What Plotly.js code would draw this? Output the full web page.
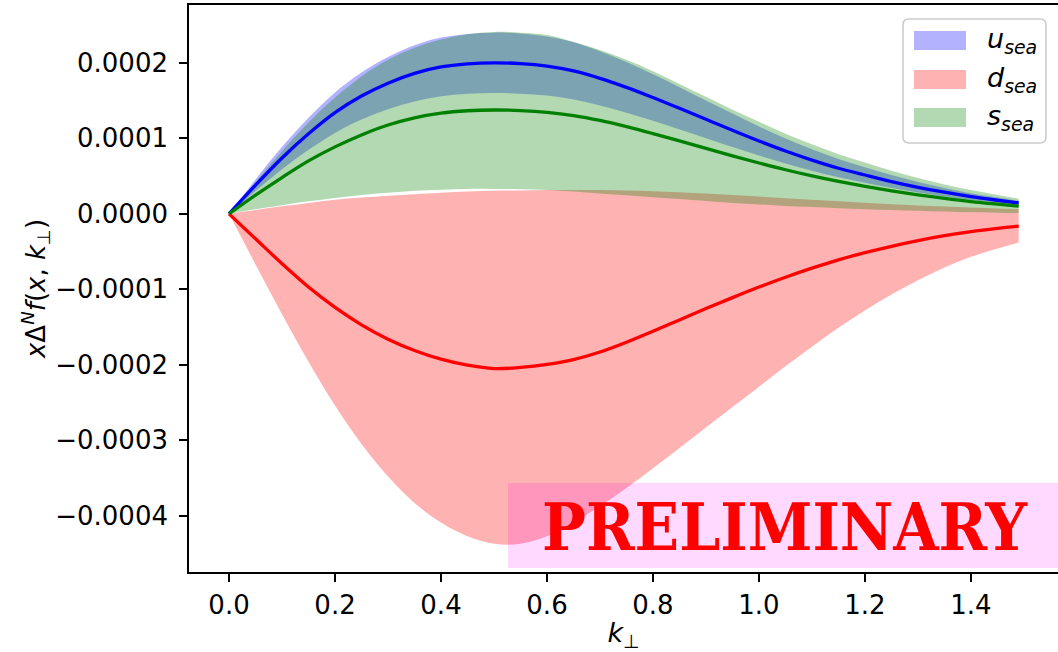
<!DOCTYPE html>
<html>
<head>
<meta charset="utf-8">
<script src="https://cdn.plot.ly/plotly-3.0.1.min.js"></script>
<style>
  html, body { margin: 0; padding: 0; background: #ffffff; }
  #chart { width: 1058px; height: 652px; }
</style>
</head>
<body>
<div id="chart"></div>
<script>
// Transverse momentum grid (k_perp)
const kPerp = [0, 0.05, 0.1, 0.15, 0.2, 0.25, 0.3, 0.35, 0.4, 0.45, 0.5, 0.55, 0.6, 0.65, 0.7, 0.75,
  0.8, 0.85, 0.9, 0.95, 1.0, 1.05, 1.1, 1.15, 1.2, 1.25, 1.3, 1.35, 1.4, 1.45, 1.49];

// u sea: central value and uncertainty band
const uSeaMid = [0, 0.38e-4, 0.74e-4, 1.06e-4, 1.34e-4, 1.56e-4, 1.73e-4, 1.86e-4, 1.945e-4, 1.986e-4, 2.0e-4,
  1.99e-4, 1.957e-4, 1.893e-4, 1.795e-4, 1.675e-4, 1.54e-4, 1.398e-4, 1.252e-4, 1.107e-4, 0.965e-4,
  0.832e-4, 0.712e-4, 0.604e-4, 0.514e-4, 0.428e-4, 0.352e-4, 0.286e-4, 0.228e-4, 0.18e-4, 0.144e-4];
const uSeaHi = [0, 0.456e-4, 0.888e-4, 1.272e-4, 1.608e-4, 1.872e-4, 2.076e-4, 2.232e-4, 2.334e-4, 2.383e-4, 2.40e-4,
  2.388e-4, 2.348e-4, 2.272e-4, 2.154e-4, 2.01e-4, 1.848e-4, 1.678e-4, 1.502e-4, 1.328e-4, 1.158e-4,
  0.998e-4, 0.854e-4, 0.725e-4, 0.617e-4, 0.514e-4, 0.422e-4, 0.343e-4, 0.274e-4, 0.216e-4, 0.173e-4];
const uSeaLo = [0, 0.304e-4, 0.592e-4, 0.848e-4, 1.072e-4, 1.248e-4, 1.384e-4, 1.488e-4, 1.556e-4, 1.589e-4, 1.60e-4,
  1.592e-4, 1.566e-4, 1.514e-4, 1.436e-4, 1.34e-4, 1.232e-4, 1.118e-4, 1.002e-4, 0.886e-4, 0.772e-4,
  0.666e-4, 0.57e-4, 0.483e-4, 0.411e-4, 0.342e-4, 0.282e-4, 0.229e-4, 0.182e-4, 0.144e-4, 0.115e-4];

// d sea: central value and uncertainty band
const dSeaMid = [0, -0.33e-4, -0.66e-4, -0.97e-4, -1.24e-4, -1.47e-4, -1.66e-4, -1.81e-4, -1.925e-4, -2.005e-4, -2.05e-4,
  -2.035e-4, -1.995e-4, -1.93e-4, -1.83e-4, -1.70e-4, -1.555e-4, -1.405e-4, -1.255e-4, -1.11e-4, -0.97e-4,
  -0.84e-4, -0.72e-4, -0.61e-4, -0.515e-4, -0.43e-4, -0.355e-4, -0.29e-4, -0.237e-4, -0.193e-4, -0.162e-4];
const dSeaHi = [0, 0.05e-4, 0.1e-4, 0.145e-4, 0.185e-4, 0.215e-4, 0.24e-4, 0.26e-4, 0.28e-4, 0.295e-4, 0.305e-4,
  0.31e-4, 0.315e-4, 0.317e-4, 0.315e-4, 0.31e-4, 0.30e-4, 0.285e-4, 0.268e-4, 0.25e-4, 0.23e-4,
  0.207e-4, 0.186e-4, 0.165e-4, 0.146e-4, 0.128e-4, 0.112e-4, 0.097e-4, 0.083e-4, 0.07e-4, 0.06e-4];
const dSeaLo = [0, -0.67e-4, -1.33e-4, -1.96e-4, -2.54e-4, -3.05e-4, -3.48e-4, -3.83e-4, -4.09e-4, -4.27e-4, -4.37e-4,
  -4.37e-4, -4.27e-4, -4.09e-4, -3.87e-4, -3.63e-4, -3.37e-4, -3.1e-4, -2.83e-4, -2.56e-4, -2.29e-4,
  -2.02e-4, -1.76e-4, -1.51e-4, -1.28e-4, -1.07e-4, -0.88e-4, -0.71e-4, -0.57e-4, -0.46e-4, -0.38e-4];

// s sea: central value and uncertainty band
const sSeaMid = [0, 0.248e-4, 0.481e-4, 0.701e-4, 0.887e-4, 1.045e-4, 1.176e-4, 1.272e-4, 1.334e-4, 1.365e-4, 1.375e-4,
  1.368e-4, 1.345e-4, 1.302e-4, 1.237e-4, 1.155e-4, 1.063e-4, 0.966e-4, 0.866e-4, 0.768e-4, 0.673e-4,
  0.584e-4, 0.503e-4, 0.43e-4, 0.365e-4, 0.305e-4, 0.252e-4, 0.205e-4, 0.163e-4, 0.128e-4, 0.102e-4];
const sSeaHi = [0, 0.42e-4, 0.83e-4, 1.21e-4, 1.54e-4, 1.82e-4, 2.04e-4, 2.2e-4, 2.31e-4, 2.38e-4, 2.41e-4,
  2.40e-4, 2.37e-4, 2.28e-4, 2.17e-4, 2.04e-4, 1.89e-4, 1.72e-4, 1.55e-4, 1.38e-4, 1.22e-4,
  1.06e-4, 0.92e-4, 0.79e-4, 0.68e-4, 0.57e-4, 0.475e-4, 0.39e-4, 0.315e-4, 0.25e-4, 0.20e-4];
const sSeaLo = [0, 0.06e-4, 0.115e-4, 0.165e-4, 0.21e-4, 0.25e-4, 0.28e-4, 0.305e-4, 0.32e-4, 0.33e-4, 0.33e-4,
  0.325e-4, 0.315e-4, 0.295e-4, 0.27e-4, 0.245e-4, 0.22e-4, 0.195e-4, 0.17e-4, 0.145e-4, 0.125e-4,
  0.105e-4, 0.09e-4, 0.075e-4, 0.06e-4, 0.05e-4, 0.04e-4, 0.03e-4, 0.02e-4, 0.015e-4, 0.01e-4];

// Axis ticks
const xTickVals = [0.0, 0.2, 0.4, 0.6, 0.8, 1.0, 1.2, 1.4];
const xTickText = ['0.0', '0.2', '0.4', '0.6', '0.8', '1.0', '1.2', '1.4'];
const yTickVals = [-0.0004, -0.0003, -0.0002, -0.0001, 0, 0.0001, 0.0002];
const yTickText = ['\u22120.0004', '\u22120.0003', '\u22120.0002', '\u22120.0001', '0.0000', '0.0001', '0.0002'];

// Legend entries
const seriesNames = ['<i>u</i><sub><i>sea</i></sub>', '<i>d</i><sub><i>sea</i></sub>', '<i>s</i><sub><i>sea</i></sub>'];
const bandColors = ['rgba(0,0,255,0.3)', 'rgba(255,0,0,0.3)', 'rgba(0,128,0,0.3)'];
const lineColors = ['#0000ff', '#ff0000', '#008000'];

const bands = [[uSeaLo, uSeaHi], [dSeaLo, dSeaHi], [sSeaLo, sSeaHi]];
const mids = [uSeaMid, dSeaMid, sSeaMid];

const traces = [];
bands.forEach((b, i) => {
  traces.push({
    x: kPerp, y: b[0], type: 'scatter', mode: 'lines',
    line: { width: 0, shape: 'spline', smoothing: 1 },
    hoverinfo: 'skip', showlegend: false
  });
  traces.push({
    x: kPerp, y: b[1], type: 'scatter', mode: 'lines', fill: 'tonexty',
    fillcolor: bandColors[i],
    line: { width: 0, shape: 'spline', smoothing: 1 },
    hoverinfo: 'skip', showlegend: false
  });
});
mids.forEach((m, i) => {
  traces.push({
    x: kPerp, y: m, type: 'scatter', mode: 'lines',
    line: { color: lineColors[i], width: 3.3, shape: 'spline', smoothing: 1 },
    hoverinfo: 'skip', showlegend: false
  });
});

// Page geometry (pixels) used to place the legend and the watermark box
const W = 1058, H = 652, ML = 189, MR = 0, MT = 5, MB = 80;
const PW = W - ML - MR, PH = H - MT - MB;
const px = x => (x - ML) / PW;
const py = y => (H - MB - y) / PH;

function roundedRect(x0, y0, x1, y1, r) {
  const p = (x, y) => px(x) + ',' + py(y);
  return 'M' + p(x0 + r, y0) + ' L' + p(x1 - r, y0) + ' Q' + p(x1, y0) + ' ' + p(x1, y0 + r) +
    ' L' + p(x1, y1 - r) + ' Q' + p(x1, y1) + ' ' + p(x1 - r, y1) +
    ' L' + p(x0 + r, y1) + ' Q' + p(x0, y1) + ' ' + p(x0, y1 - r) +
    ' L' + p(x0, y0 + r) + ' Q' + p(x0, y0) + ' ' + p(x0 + r, y0) + ' Z';
}

const shapes = [
  { type: 'path', xref: 'paper', yref: 'paper', path: roundedRect(903, 19, 1046, 143, 6),
    fillcolor: 'rgba(255,255,255,0.8)', line: { color: '#cccccc', width: 1.6 }, layer: 'above' },
  { type: 'rect', xref: 'paper', yref: 'paper', x0: px(508), x1: px(1062), y0: py(568), y1: py(483),
    fillcolor: 'rgba(255,0,255,0.15)', line: { width: 0 }, layer: 'above' }
];
const annotations = [];
const legendRows = [40.5, 79.5, 117.5];
seriesNames.forEach((name, i) => {
  const yc = legendRows[i];
  shapes.push({ type: 'rect', xref: 'paper', yref: 'paper',
    x0: px(914), x1: px(966), y0: py(yc + 9.5), y1: py(yc - 9.5),
    fillcolor: bandColors[i], line: { width: 0 }, layer: 'above' });
  annotations.push({ xref: 'paper', yref: 'paper', x: px(985), y: py(yc), xanchor: 'left', yanchor: 'middle',
    text: name, showarrow: false, font: { family: 'DejaVu Sans', size: 27, color: '#000000' } });
});
annotations.push({
  xref: 'paper', yref: 'paper', x: px(785), y: py(527), xanchor: 'center', yanchor: 'middle',
  text: 'PRELIMINARY', showarrow: false,
  font: { family: 'DejaVu Serif Condensed, DejaVu Serif', size: 65, color: '#ff0000', weight: 'bold' }
});

const tickFont = { family: 'DejaVu Sans', size: 26, color: '#000000' };
const layout = {
  width: W, height: H,
  margin: { l: ML, r: MR, t: MT, b: MB, pad: 0 },
  paper_bgcolor: '#ffffff', plot_bgcolor: '#ffffff',
  showlegend: false,
  xaxis: {
    range: [-0.0755, 1.5642], showgrid: false, zeroline: false,
    showline: true, linecolor: '#000000', linewidth: 1.8, mirror: true,
    ticks: 'outside', ticklen: 8, tickwidth: 1.8, tickcolor: '#000000',
    tickvals: xTickVals, ticktext: xTickText, tickfont: tickFont, ticklabelstandoff: 1,
    title: { text: '<i>k</i><sub>\u22a5</sub>', font: { family: 'DejaVu Sans', size: 27, color: '#000000' }, standoff: 6 }
  },
  yaxis: {
    range: [-4.744e-4, 2.766e-4], showgrid: false, zeroline: false,
    showline: true, linecolor: '#000000', linewidth: 1.8, mirror: false,
    ticks: 'outside', ticklen: 8, tickwidth: 1.8, tickcolor: '#000000',
    tickvals: yTickVals, ticktext: yTickText, tickfont: tickFont, ticklabelstandoff: 6,
    title: { text: '<i>x</i>\u0394<sup><i>N</i></sup><i>f</i>(<i>x</i>, <i>k</i><sub>\u22a5</sub>)',
      font: { family: 'DejaVu Sans', size: 26, color: '#000000' }, standoff: 2 }
  },
  shapes: shapes,
  annotations: annotations
};

Plotly.newPlot('chart', traces, layout, { staticPlot: true, displayModeBar: false });
</script>
</body>
</html>
